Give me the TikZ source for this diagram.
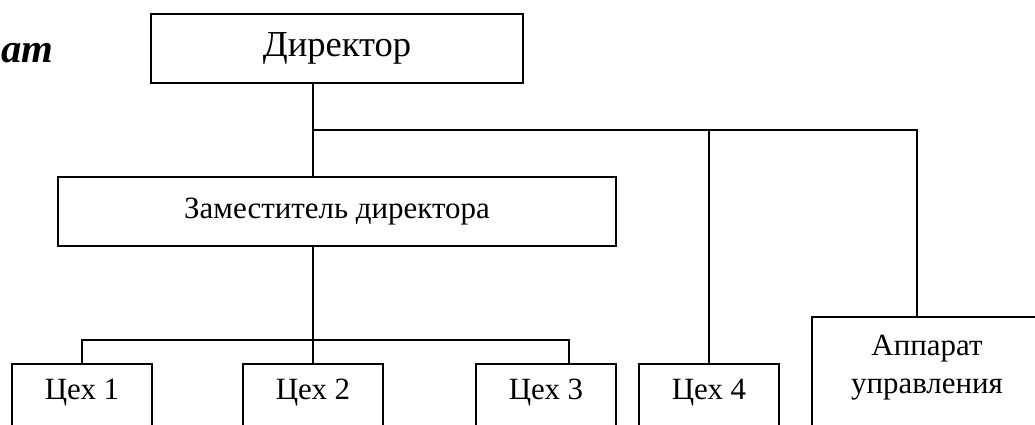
\documentclass[tikz,border=0pt]{standalone}
\usepackage{fontspec}
\setmainfont{Liberation Serif}
\begin{document}
\begin{tikzpicture}[
    x=0.025cm, y=-0.025cm,
    box/.style={rectangle, draw, line width=1.3pt, inner sep=0pt, font=\fontsize{22}{27}\selectfont},
    unit/.style={box, anchor=north, minimum width=3.5cm, text height=0.9cm, text depth=1.2cm},
    link/.style={line width=1.3pt}
]
    \useasboundingbox (0,0) rectangle (1035,425);
    \clip (0,0) rectangle (1035,425);

    % Heading
    \node[anchor=base west, inner sep=0pt, font=\fontsize{29}{34}\selectfont\bfseries\itshape] (title) at (1,63) {ат};

    % Director
    \node[box, minimum width=9.3cm, minimum height=1.725cm, font=\fontsize{26}{30}\selectfont] (dir) at (337,48.5) {Директор};

    % Deputy
    \node[box, minimum width=13.95cm, minimum height=1.725cm] (dep) at (337,211.5) {Заместитель директора};

    % Workshops
    \node[unit] (c1) at (82,363) {Цех 1};
    \node[unit] (c2) at (313,363) {Цех 2};
    \node[unit] (c3) at (546,363) {Цех 3};
    \node[unit] (c4) at (709,363) {Цех 4};

    % Administration
    \node[box, anchor=north, minimum width=5.75cm, text width=5.2cm, align=center, text height=0.975cm, text depth=2cm] (apu) at (927,316) {Аппарат\\управления};

    % Buses
    \coordinate (topbus) at (313,130);
    \coordinate (lowbus) at (313,340);

    % Director -> deputy, workshop 4, administration
    \draw[link] (dir.south -| c2.north) -- (dep.north -| c2.north);
    \draw[link] (topbus) -| (c4.north);
    \draw[link] (topbus) -| ([xshift=-0.25cm]apu.north);

    % Deputy -> workshops 1-3
    \draw[link] (dep.south -| c2.north) -- (c2.north);
    \draw[link] (lowbus) -| (c1.north);
    \draw[link] (lowbus) -| ([xshift=0.575cm]c3.north);

\end{tikzpicture}
\end{document}
